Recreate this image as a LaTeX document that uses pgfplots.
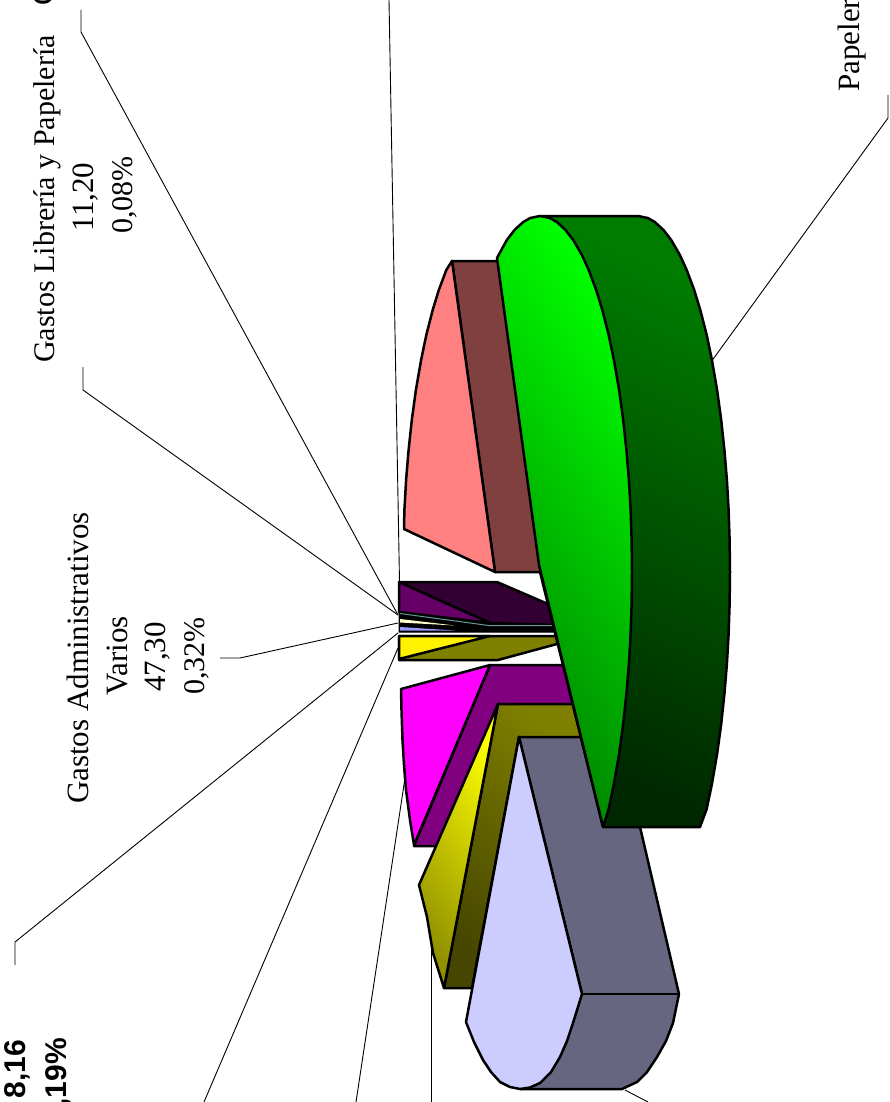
\documentclass[border=0pt]{standalone}
\usepackage{fontspec}
\setmainfont{Liberation Serif}
\newfontfamily\sansb{Liberation Sans}
\usepackage{pgfplots}
\pgfplotsset{compat=1.18}
\definecolor{wallA}{HTML}{007C00}
\definecolor{wallB}{HTML}{002800}
\definecolor{faceA}{HTML}{00FF00}
\definecolor{faceB}{HTML}{008000}
\definecolor{pinkF}{HTML}{FF8080}
\definecolor{pinkS}{HTML}{804040}
\definecolor{purS}{HTML}{330033}
\definecolor{purF}{HTML}{660066}
\definecolor{tealS}{HTML}{669999}
\definecolor{cream}{HTML}{FFFFCC}
\definecolor{peri}{HTML}{9999FF}
\definecolor{oliveS}{HTML}{808000}
\definecolor{magF}{HTML}{FF00FF}
\definecolor{magS}{HTML}{800080}
\definecolor{oliA}{HTML}{808000}
\definecolor{oliB}{HTML}{464600}
\definecolor{yelA}{HTML}{FFFF00}
\definecolor{yelB}{HTML}{909000}
\definecolor{lavF}{HTML}{CCCCFF}
\definecolor{lavS}{HTML}{666680}
\tikzset{seg/.style={draw=black,line width=2.5pt,line join=round,mark=none},
 lead/.style={draw=black,line width=0.9pt,mark=none},
 lab/.style={rotate=90,inner sep=0pt,font=\fontsize{31}{37}\selectfont},
 labs/.style={rotate=90,inner sep=0pt,font=\fontsize{30}{36}\selectfont},
 labb/.style={rotate=90,inner sep=0pt,font=\fontsize{30}{36}\selectfont\sansb\bfseries}}
\begin{document}
\begin{tikzpicture}
\path[use as bounding box,clip] (0,0) rectangle (890pt,1102pt);
\begin{axis}[at={(0,0)},anchor=south west,width=890pt,height=1102pt,scale only axis,
 xmin=0,xmax=890,ymin=0,ymax=1102,y dir=reverse,axis lines=none,clip=false]
% leader lines
\addplot[lead] coordinates {(81,10)(81,32)(398,615)};
\addplot[lead] coordinates {(83,367)(83,390)(398,615)};
\addplot[lead] coordinates {(389,0)(399.5,582)};
\addplot[lead] coordinates {(888,95)(888,118)(711,362)};
\addplot[lead] coordinates {(220,658)(240,658)(398,623)};
\addplot[lead] coordinates {(15,965)(15,942)(398,633)};
\addplot[lead] coordinates {(204,1102)(398,648)};
\addplot[lead] coordinates {(356,1102)(405,778)};
\addplot[lead] coordinates {(431.5,1102)(431.5,945)};
\addplot[lead] coordinates {(625,1090)(648,1102)};
% dark purple
\addplot[seg,fill=purS] coordinates {(399,582)(497,582)(548,604)(556,625)(490,623)} -- cycle;
\addplot[seg,fill=purF] coordinates {(399,582)(490,623)(399,612)} -- cycle;
% thin slices
\addplot[fill=black,draw=black,line width=1pt,mark=none] coordinates {(399,613)(490,624)(556,624)(556,632)(399,632)} -- cycle;
\addplot[draw=tealS,line width=1pt,mark=none] coordinates {(400,613.5)(490,625.7)(553,625.7)};
\addplot[fill=cream,draw=none,mark=none] coordinates {(400,619)(455,625.5)(400,622.5)} -- cycle;
\addplot[fill=peri,draw=none,mark=none] coordinates {(400,627)(455,630.5)(400,630.5)} -- cycle;
% yellow slice
\addplot[seg,fill=oliveS] coordinates {(399,636)(557,636)(557,644)(498,660)(399,660)} -- cycle;
\addplot[seg,fill=yellow] coordinates {(399,636)(490,636)(399,659)} -- cycle;
% magenta slice
\addplot[seg,fill=magS] coordinates {(490,665)(565,665)(590,720)(498,705)(437,846)(414,846)} -- cycle;
\addplot[seg,fill=magF] coordinates {(401,689)(490,665)(414,845)(410,820)(406,790)(404,765)(402.5,740)(401.5,710)} -- cycle;
% olive / yellow gradient slice
\addplot[seg,left color=oliA,right color=oliB,shading angle=-45] coordinates {(498,704)(575,704)(590,760)(519,737)(472,988)(444,988)} -- cycle;
\addplot[seg,left color=yelA,right color=yelB,shading angle=-53] coordinates {(498,704)(444,988)(433,953)(427,917)(419,885)} -- cycle;
% lavender slice
\addplot[seg,fill=lavS] coordinates {(519,737)(619,737)(679,994)(673,1023)(666,1041)(657,1057)(647,1072)(637,1082)(622,1089)(520,1089)(582,994)} -- cycle;
\addplot[seg,fill=lavF] coordinates {(519,737)(582,994)(573,1023)(567,1041)(560,1057)(551,1072)(540,1083)(530,1087.5)(520,1089)(510,1087)(500,1082)(491,1072)(483,1060)(474,1042)(466,1022)} -- cycle;
\addplot[draw=black,line width=2.5pt,mark=none] coordinates {(582,994)(679,994)};
% pink slice
\addplot[seg,fill=pinkS] coordinates {(452,261)(500,261)(545,572)(495,572)} -- cycle;
\addplot[seg,fill=pinkF] coordinates {(495,572)(404,529)(404.4,510)(406.1,480)(408.6,450)(411.8,420)(415.9,390)(421.1,360)(426.3,335)(432.7,310)(438.8,290)(446.3,270)(452,261)} -- cycle;
% green slice
\addplot[seg,left color=wallA,right color=wallB,shading angle=-24] coordinates {(540,216)(638,216)(647.8,218)(654.8,222)(663.5,230)(671.2,240)(679.9,255)(686.7,270)(694.2,290)(700.3,310)(706.7,335)(711.9,360)(717.1,390)(721.2,420)(724.4,450)(726.9,480)(728.6,510)(729.6,540)(730,572)(729.6,604)(728.6,634)(726.9,664)(724.4,694)(721.2,724)(717.1,754)(711.9,784)(706.7,809)(700,827)(603,827)(540,572)} -- cycle;
\addplot[seg,left color=faceA,right color=faceB,shading angle=-55] coordinates {(497,258)(506.8,240)(514.5,230)(523.2,222)(530.2,218)(540,216)(549.8,218)(556.8,222)(565.5,230)(573.2,240)(581.9,255)(588.7,270)(596.2,290)(602.3,310)(608.7,335)(613.9,360)(619.1,390)(623.2,420)(626.4,450)(628.9,480)(630.6,510)(631.6,540)(632,572)(631.6,604)(630.6,634)(628.9,664)(626.4,694)(623.2,724)(619.1,754)(613.9,784)(608.7,809)(603,827)(539,565)} -- cycle;
% labels
\node[labs,anchor=base] at (axis cs:54,199) {Gastos Librería y Papelería};
\node[lab,anchor=base] at (axis cs:93,197) {11,20};
\node[labs,anchor=base] at (axis cs:132,195) {0,08\%};
\node[lab,anchor=base west] at (axis cs:53,6) {C};
\node[lab,anchor=base west] at (axis cs:859,92) {Papelería};
\node[lab,anchor=base] at (axis cs:88,658) {Gastos Administrativos};
\node[lab,anchor=base] at (axis cs:127,656) {Varios};
\node[lab,anchor=base] at (axis cs:165,657) {47,30};
\node[labs,anchor=base] at (axis cs:204,656) {0,32\%};
\node[labb,anchor=base east] at (axis cs:25,1040) {8,16};
\node[labb,anchor=base east] at (axis cs:66,1038) {0,19\%};
\end{axis}
\end{tikzpicture}
\end{document}
